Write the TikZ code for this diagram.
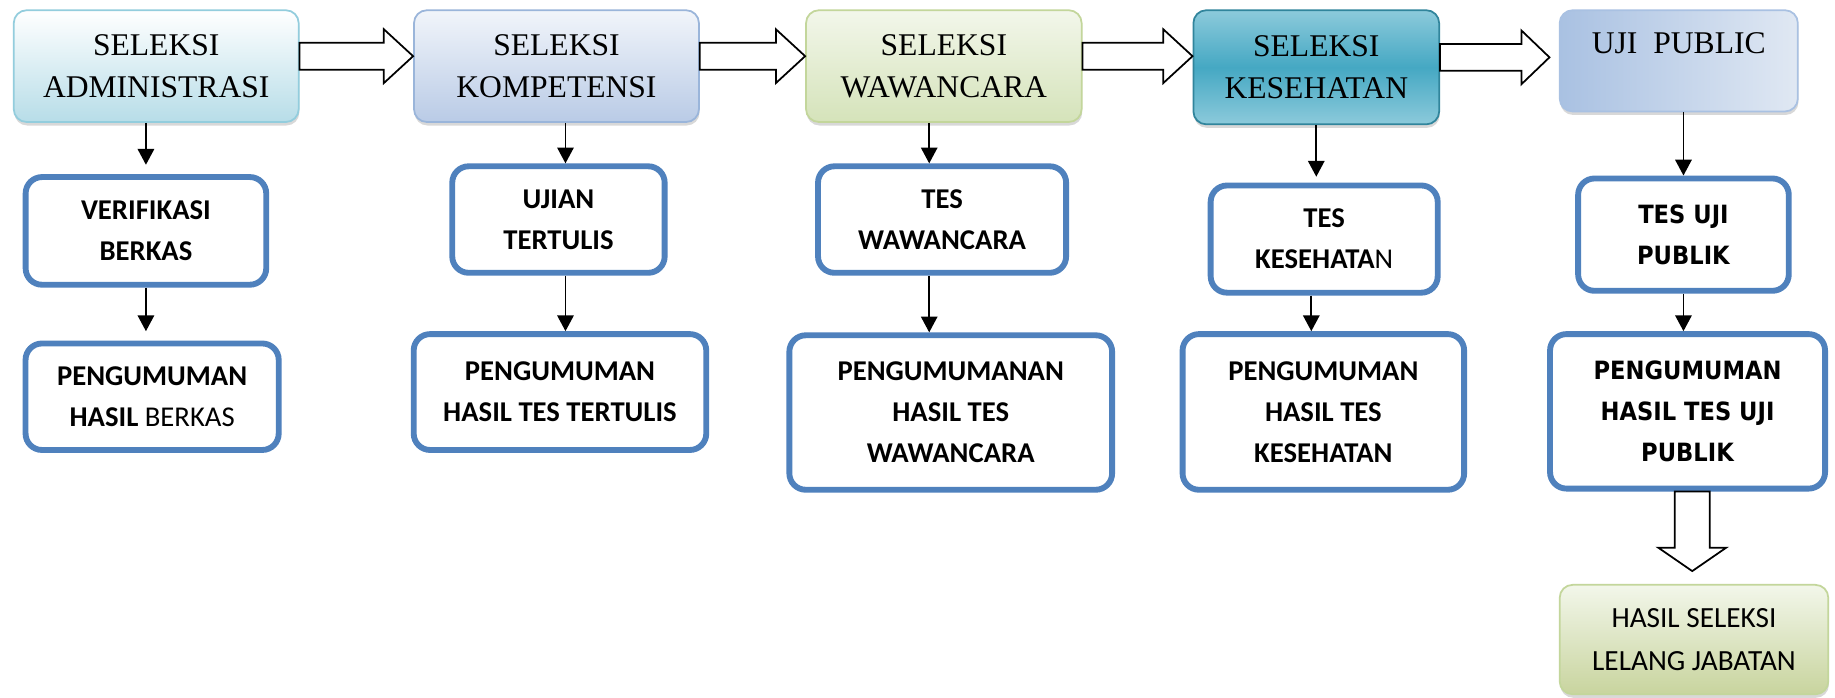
\documentclass[tikz,border=0pt]{standalone}
\usepackage{fontspec}
\setmainfont{Liberation Serif}
\newfontfamily\calibri{Carlito}
\newfontfamily\tahoma[FakeStretch=0.9]{DejaVu Sans}
\usetikzlibrary{arrows.meta}
\usetikzlibrary{calc}
\usetikzlibrary{shadows}
\definecolor{boxblue}{HTML}{4F81BD}
\definecolor{aqualine}{HTML}{93CDDD}
\definecolor{aquafill}{HTML}{B7DDE8}
\definecolor{bluelinelt}{HTML}{9AB5DA}
\definecolor{bluefill}{HTML}{B9CBE6}
\definecolor{greenline}{HTML}{C3D69B}
\definecolor{greenfill}{HTML}{D5E3BA}
\definecolor{tealline}{HTML}{31859C}
\definecolor{tealfill}{HTML}{45A8C3}
\definecolor{teallight}{HTML}{8CCADB}
\definecolor{slatefill}{HTML}{A9C1E2}
\definecolor{slatelight}{HTML}{E0E8F3}
\tikzset {
  stage/.style = {
    rounded corners = 11pt,
    line width = 1.5pt,
    inner sep = 0,
    align = center,
    font = \fontsize{27}{35.5}\selectfont,
    drop shadow={shadow xshift=0.5pt,shadow yshift=-3pt,opacity=0.3}
  },
  % one step of a stage
  check/.style = {
    draw = boxblue,
    fill = white,
    line width = 5pt,
    rounded corners = 14pt,
    inner sep = 0,
    align = center,
    font = \calibri\bfseries\fontsize{24.5}{35}\selectfont
  },
  % last column, other typeface
  checkwide/.style = {
    check,
    font = \tahoma\bfseries\fontsize{21.5}{35}\selectfont
  },
  % plain down arrow
  link/.style = {
    draw = black,
    line width = 1.6pt,
    -{Triangle[length = 13.5pt, width = 14pt]}
  },
  % big open arrow
  hollow/.style = {
    draw = black,
    fill = white,
    line width = 1.5pt,
    line join = miter
  }
}

\begin{document}
\begin{tikzpicture}[x = 1pt, y = -1pt]
    \useasboundingbox (0, 0) rectangle (1568, 596);
    \fill[white] (0, 0) rectangle (1568, 596);

    \node[stage, draw = aqualine, top color = white, bottom color = aquafill,
      minimum width = 243.5pt, minimum height = 95.5pt]
      at (133.5, 56.5) (adm) {SELEKSI\\ADMINISTRASI};
    \node[stage, draw = bluelinelt, top color = white!80!bluefill, bottom color = bluefill,
      minimum width = 243.5pt, minimum height = 95.5pt]
      at (475.5, 56.5) (komp) {SELEKSI\\KOMPETENSI};
    \node[stage, draw = greenline, top color = white!70!greenfill, bottom color = greenfill,
      minimum width = 235.5pt, minimum height = 95.5pt]
      at (806.5, 56.5) (waw) {SELEKSI\\WAWANCARA};
    \node[stage, draw = tealline, top color = teallight, bottom color = teallight,
      middle color = tealfill, minimum width = 210pt, minimum height = 97.5pt]
      at (1124.75, 57.5) (kes) {SELEKSI\\KESEHATAN};
    \node[stage, draw = slatefill, left color = slatefill, right color = slatelight,
      minimum width = 203.5pt, minimum height = 86.5pt, text depth = 30pt]
      at (1434.5, 52) (uji) {UJI\ \ PUBLIC};

    \node[check, minimum width = 205.6pt, minimum height = 92pt]
      at (124.7, 197.3) (verif) {VERIFIKASI\\BERKAS};
    \node[check, minimum width = 216.3pt, minimum height = 91pt]
      at (130, 339) (pgadm) {PENGUMUMAN\\HASIL {\mdseries BERKAS}};
    \node[check, minimum width = 181.5pt, minimum height = 91pt]
      at (477.2, 187.6) (ujian) {UJIAN\\TERTULIS};
    \node[check, minimum width = 250pt, minimum height = 99pt]
      at (478.5, 335) (pgkomp) {PENGUMUMAN\\HASIL TES TERTULIS};
    \node[check, minimum width = 212pt, minimum height = 91pt]
      at (805, 187.6) (teswaw) {TES\\WAWANCARA};
    \node[check, minimum width = 275.8pt, minimum height = 132pt]
      at (812.4, 352.5) (pgwaw) {PENGUMUMANAN\\HASIL TES\\WAWANCARA};
    \node[check, minimum width = 194pt, minimum height = 91.6pt]
      at (1131.5, 204.3) (teskes) {TES\\KESEHATA{\mdseries N}};
    \node[check, minimum width = 240.6pt, minimum height = 133pt]
      at (1130.8, 352) (pgkes) {PENGUMUMAN\\HASIL TES\\KESEHATAN};
    \node[checkwide, minimum width = 180pt, minimum height = 96pt]
      at (1438.5, 200.5) (tesuji) {TES UJI\\PUBLIK};
    \node[checkwide, minimum width = 235pt, minimum height = 132pt]
      at (1442, 351.5) (pguji) {PENGUMUMAN\\HASIL TES UJI\\PUBLIK};

    \node[stage, draw = greenline, top color = white!70!greenfill, bottom color = greenfill!85!olive,
      minimum width = 229.5pt, minimum height = 93.5pt,
      font = \calibri\fontsize{25}{36}\selectfont]
      at (1447.5, 546.5) (hasil) {HASIL SELEKSI\\LELANG JABATAN};

    % open arrows between the stages
    \draw[hollow] let \p1 = (adm.east), \p2 = (komp.west) in
    (\x1, \y1 + 20pt) -- (\x2 - 25pt, \y1 + 20pt) -- (\x2 - 25pt, \y1 + 31.5pt)
    -- (\x2, \y1 + 8.5pt)
    -- (\x2 - 25pt, \y1 - 14.5pt) -- (\x2 - 25pt, \y1 - 3pt) -- (\x1, \y1 - 3pt) -- cycle;
    \draw[hollow] let \p1 = (komp.east), \p2 = (waw.west) in
    (\x1, \y1 + 20pt) -- (\x2 - 25pt, \y1 + 20pt) -- (\x2 - 25pt, \y1 + 31.5pt)
    -- (\x2, \y1 + 8.5pt)
    -- (\x2 - 25pt, \y1 - 14.5pt) -- (\x2 - 25pt, \y1 - 3pt) -- (\x1, \y1 - 3pt) -- cycle;
    \draw[hollow] let \p1 = (waw.east), \p2 = (kes.west) in
    (\x1, \y1 + 20pt) -- (\x2 - 25pt, \y1 + 20pt) -- (\x2 - 25pt, \y1 + 31.5pt)
    -- (\x2, \y1 + 8.5pt)
    -- (\x2 - 25pt, \y1 - 14.5pt) -- (\x2 - 25pt, \y1 - 3pt) -- (\x1, \y1 - 3pt) -- cycle;
    \draw[hollow] let \p1 = (kes.east), \p2 = ($(uji.west) + (-8, 0)$) in
    (\x1, \y1 + 20pt) -- (\x2 - 24pt, \y1 + 20pt) -- (\x2 - 24pt, \y1 + 31.5pt)
    -- (\x2, \y1 + 8.5pt)
    -- (\x2 - 24pt, \y1 - 14.5pt) -- (\x2 - 24pt, \y1 - 3pt) -- (\x1, \y1 - 3pt) -- cycle;
    \draw[hollow] let \p1 = (pguji.south), \p2 = (hasil.north) in
    (\x1 - 11pt, \y1) -- (\x1 - 11pt, \y2 + 31pt) -- (\x1 - 25pt, \y2 + 31pt)
    -- (\x1 + 4pt, \y2 + 11pt)
    -- (\x1 + 33pt, \y2 + 31pt) -- (\x1 + 19pt, \y2 + 31pt) -- (\x1 + 19pt, \y1) -- cycle;

    % down arrows
    \draw[link, shorten >= 8pt] (verif.north |- adm.south)
    -- (verif.north);
    \draw[link, shorten >= 8pt] (verif.south)
    -- (verif.south |- pgadm.north);
    \draw[link] ($(ujian.north |- komp.south) + (6, 0)$)
    -- ($(ujian.north) + (6, 0)$);
    \draw[link] ($(ujian.south) + (6, 0)$)
    -- ($(ujian.south |- pgkomp.north) + (6, 0)$);
    \draw[link] ($(teswaw.north |- waw.south) + (-11, 0)$)
    -- ($(teswaw.north) + (-11, 0)$);
    \draw[link] ($(teswaw.south) + (-11, 0)$)
    -- ($(teswaw.south |- pgwaw.north) + (-11, 0)$);
    \draw[link, shorten >= 5pt] (kes.south)
    -- (kes.south |- teskes.north);
    \draw[link] ($(teskes.south) + (-11, 0)$)
    -- ($(teskes.south |- pgkes.north) + (-11, 0)$);
    \draw[link] (tesuji.north |- uji.south)
    -- (tesuji.north);
    \draw[link] (tesuji.south)
    -- (tesuji.south |- pguji.north);
\end{tikzpicture}
\end{document}
